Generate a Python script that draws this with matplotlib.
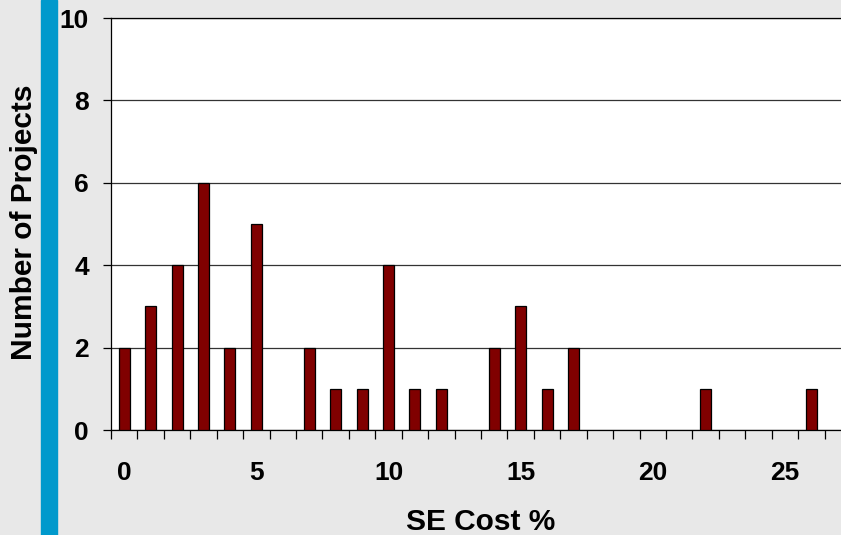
import numpy as np
import matplotlib.pyplot as plt
from matplotlib.patches import Rectangle

# datos: % costo SE vs numero de proyectos
cost_pct = np.arange(0, 28)
n_projects = [2, 3, 4, 6, 2, 5, 0, 2, 1, 1, 4, 1, 1, 0,
              2, 3, 1, 2, 0, 0, 0, 0, 1, 0, 0, 0, 1, 0]
x_labels = [0, 5, 10, 15, 20, 25]

plt.rcParams['font.family'] = ['Liberation Sans', 'DejaVu Sans']
plt.rcParams['font.weight'] = 'bold'

fig = plt.figure(figsize=(8.41, 5.35), dpi=100)
fig.patch.set_facecolor('#e8e8e8')
fig.patches.append(Rectangle((41/841, 0), 16/841, 1, transform=fig.transFigure,
                             color='#0099cc', zorder=0))

ax = fig.add_axes([111/841, 105/535, 740/841, 412/535])
ax.set_facecolor('white')
# sin borde para las barras de altura cero
edges = ['black' if v > 0 else 'none' for v in n_projects]
ax.bar(cost_pct, n_projects, width=0.42, color='#800000', edgecolor=edges,
       linewidth=0.9, zorder=3)

ax.set_xlim(-0.5, 27.5)
ax.set_ylim(0, 10)
ax.set_yticks(range(0, 11, 2))
ax.set_xticks(x_labels)
ax.set_xticks(np.arange(-0.5, 28, 1), minor=True)
ax.tick_params(axis='x', which='major', length=0, pad=22, labelsize=19)
ax.tick_params(axis='x', which='minor', length=6.5, width=0.9, direction='out')
ax.tick_params(axis='y', length=6, width=0.9, pad=10, labelsize=19)
ax.yaxis.grid(True, color='#333333', linewidth=0.9, zorder=1)

ax.spines['right'].set_visible(False)
for s in ['left', 'bottom', 'top']:
    ax.spines[s].set_linewidth(0.9)

ax.set_xlabel('SE Cost %', fontsize=21.5, fontweight='bold')
ax.set_ylabel('Number of Projects', fontsize=21.5, fontweight='bold')
ax.xaxis.set_label_coords(0.5, -0.19)
ax.yaxis.set_label_coords(-0.098, 0.505)

fig.savefig('out.png', dpi=100, facecolor=fig.get_facecolor())
